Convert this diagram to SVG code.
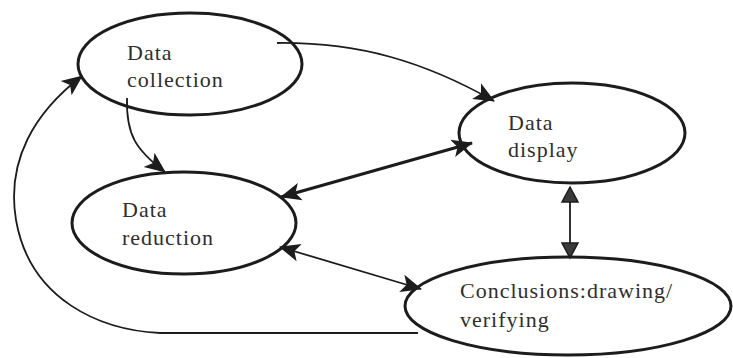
<svg xmlns="http://www.w3.org/2000/svg" width="733" height="358" viewBox="0 0 733 358">
<style>
.node ellipse{fill:none;stroke:#1c1c1c;stroke-width:3}
.node text{font-family:"Liberation Serif","Times New Roman",serif;font-size:22px;fill:#2e2e2e;letter-spacing:1px}
.conn path{fill:none;stroke:#1c1c1c}
.thin{stroke-width:1.8}
.thick{stroke-width:3.2}
</style>
<defs>
<marker id="ah" markerUnits="userSpaceOnUse" markerWidth="22" markerHeight="20" refX="20" refY="10" orient="auto-start-reverse" viewBox="0 0 22 20">
<path d="M0,1 L21,10 L0,19 L5,10 z" fill="#1c1c1c"/>
</marker>
<marker id="ahv" markerUnits="userSpaceOnUse" markerWidth="18" markerHeight="18" refX="16" refY="9" orient="auto-start-reverse" viewBox="0 0 18 18">
<path d="M1,1 L16,9 L1,17 z" fill="#3a3a3a" stroke="#1c1c1c" stroke-width="1.5"/>
</marker>
</defs>
<rect width="733" height="358" fill="#fff"/>
<g class="conn">
<path class="thin" d="M277,43 C360,42 425,62 494,101" marker-end="url(#ah)"/>
<path class="thin" d="M127,98 C126,135 136,150 165,172" marker-end="url(#ah)"/>
<path class="thick" d="M281,197 L472,143" marker-start="url(#ah)" marker-end="url(#ah)"/>
<path class="thin" d="M570,187 L570,258" marker-start="url(#ahv)" marker-end="url(#ahv)"/>
<path class="thin" d="M280,247 L421,289" marker-start="url(#ah)" marker-end="url(#ah)"/>
<path class="thin" d="M418,333 L160,333 C100,330 30,300 16,220 C6,160 35,112 82,76" marker-end="url(#ah)"/>
</g>
<g id="data-collection" class="node">
<ellipse cx="190" cy="64" rx="112" ry="51"/>
<text x="127" y="60">Data</text>
<text x="127" y="87">collection</text>
</g>
<g id="data-display" class="node">
<ellipse cx="572" cy="133" rx="113" ry="50"/>
<text x="508" y="130">Data</text>
<text x="508" y="157">display</text>
</g>
<g id="data-reduction" class="node">
<ellipse cx="184" cy="223" rx="112" ry="51"/>
<text x="122" y="217">Data</text>
<text x="122" y="245">reduction</text>
</g>
<g id="conclusions" class="node">
<ellipse cx="568" cy="306" rx="163" ry="49"/>
<text x="460" y="298">Conclusions:drawing/</text>
<text x="460" y="327">verifying</text>
</g>
</svg>
